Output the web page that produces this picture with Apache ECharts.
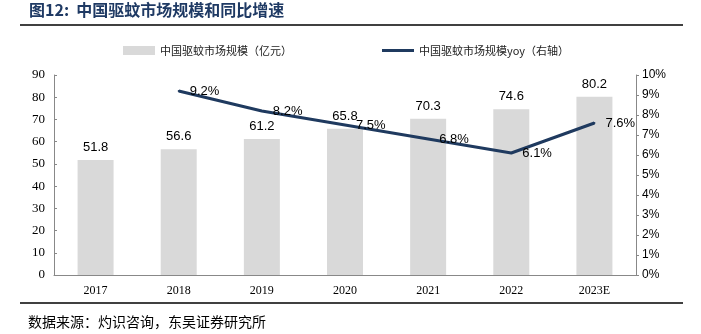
<!DOCTYPE html>
<html><head><meta charset="utf-8">
<script src="https://cdn.jsdelivr.net/npm/echarts@6/dist/echarts.min.js"></script>
<style>html,body{margin:0;padding:0;background:#fff}#c{width:701px;height:334px}</style>
</head><body><div id="c"></div>
<script>
const categories = ['2017','2018','2019','2020','2021','2022','2023E'];
const marketSize = [51.8, 56.6, 61.2, 65.8, 70.3, 74.6, 80.2];
const yoy = [null, 9.2, 8.2, 7.5, 6.8, 6.1, 7.6];
const leftTicks = {min: 0, max: 90, interval: 10};
const rightTicks = {min: 0, max: 10, interval: 1};

const chart = echarts.init(document.getElementById('c'));
const serif = '"Liberation Serif", "Noto Sans CJK SC", serif';
const sans = '"Liberation Sans", Arial, sans-serif';
chart.setOption({
  animation: false,
  backgroundColor: '#fff',
  graphic: [
    {type:'text', left: 29, top: 2, style:{text:'图12:  中国驱蚊市场规模和同比增速', font:'bold 16px "Noto Sans CJK SC", serif', fill:'#1f3a64'}},
    {type:'line', shape:{x1:20,y1:25,x2:683,y2:25}, style:{stroke:'#000', lineWidth:1.5}},
    {type:'line', shape:{x1:20,y1:303,x2:683,y2:303}, style:{stroke:'#000', lineWidth:1.5}},
    {type:'text', left: 28, top: 315, style:{text:'数据来源：灼识咨询，东吴证券研究所', font:'14px "Noto Sans CJK SC", serif', fill:'#000'}}
  ],
  legend: {
    top: 40,
    left: 118,
    itemGap: 90,
    itemWidth: 32,
    itemHeight: 9,
    textStyle: {fontFamily: '"Noto Sans CJK SC", serif', fontSize: 11, color: '#222'},
    data: [
      {name: '中国驱蚊市场规模（亿元）', icon: 'rect'},
      {name: '中国驱蚊市场规模yoy（右轴）', icon: 'path://M0,3.5 L32,3.5 L32,6.5 L0,6.5 Z', itemStyle: {color: '#1f3a5f', opacity: 1}}
    ]
  },
  grid: {left: 54, right: 65, top: 75, bottom: 59},
  xAxis: {
    type: 'category',
    data: categories,
    axisLine: {lineStyle: {color: '#888'}},
    axisTick: {inside: true, length: 3, lineStyle: {color: '#888'}},
    axisLabel: {fontFamily: serif, fontSize: 12, color: '#000', margin: 10}
  },
  yAxis: [
    {type: 'value', min: leftTicks.min, max: leftTicks.max, interval: leftTicks.interval,
     splitLine: {show: false},
     axisLine: {show: true, lineStyle: {color: '#888'}},
     axisTick: {show: true, inside: true, length: 3, lineStyle: {color: '#888'}},
     axisLabel: {fontFamily: serif, fontSize: 13, color: '#000', margin: 9}},
    {type: 'value', min: rightTicks.min, max: rightTicks.max, interval: rightTicks.interval,
     position: 'right',
     splitLine: {show: false},
     axisLine: {show: true, lineStyle: {color: '#888'}},
     axisTick: {show: true, length: 3, lineStyle: {color: '#888'}},
     axisLabel: {fontFamily: sans, fontSize: 12, color: '#000', margin: 6, formatter: '{value}%'}}
  ],
  series: [
    {name: '中国驱蚊市场规模（亿元）', type: 'bar', data: marketSize, barWidth: 36,
     itemStyle: {color: '#d9d9d9'},
     label: {show: true, position: 'top', distance: 6, fontFamily: sans, fontSize: 13, color: '#000'}},
    {name: '中国驱蚊市场规模yoy（右轴）', type: 'line', yAxisIndex: 1, data: yoy,
     symbol: 'circle', symbolSize: 2, showSymbol: true,
     lineStyle: {color: '#1f3a5f', width: 3}, itemStyle: {color: '#1f3a5f'},
     label: {show: true, position: 'right', distance: 10, fontFamily: sans, fontSize: 13, color: '#000', opacity: 1,
       formatter: p => p.value.toFixed(1) + '%'}}
  ]
});
</script></body></html>
